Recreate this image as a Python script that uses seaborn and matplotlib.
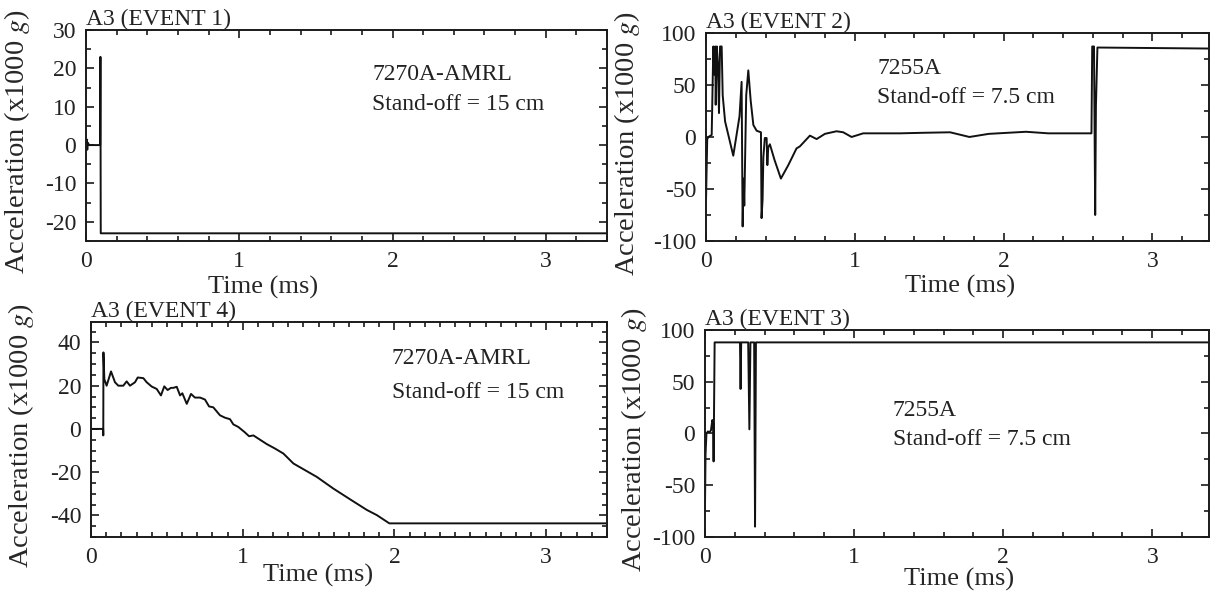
import matplotlib
matplotlib.use("Agg")
import matplotlib.pyplot as plt
import seaborn as sns
import pandas as pd
from matplotlib.ticker import MultipleLocator

# ---------------- data (time in ms, accel in 1000 g)
event1_t = [0.0, 0.004, 0.008, 0.012, 0.02, 0.092, 0.094, 0.096, 3.4]
event1_a = [0.0, 1.5, -1.2, 0.6, 0.0, 0.0, 23.0, -23.0, -23.0]

event2_t = [0.0, 0.008, 0.016, 0.038, 0.049, 0.056, 0.062, 0.065, 0.072, 0.08,
            0.087, 0.094, 0.105, 0.112, 0.128, 0.183, 0.225, 0.239, 0.246, 0.252,
            0.257, 0.27, 0.284, 0.3, 0.318, 0.34, 0.369, 0.373, 0.38, 0.385,
            0.395, 0.407, 0.412, 0.418, 0.429, 0.46, 0.503, 0.553, 0.608, 0.631,
            0.698, 0.743, 0.799, 0.877, 0.922, 0.978, 1.056, 1.302, 1.45, 1.64,
            1.77, 1.9, 2.15, 2.3, 2.59, 2.595, 2.607, 2.615, 2.62, 2.63, 3.4]
event2_a = [-60, -2, 0, 2, 87, 60, 87, 31, 87, 70,
            23, 87, 87, 40, 15, -18, 20, 53, -86, -40,
            -66, 40, 64, 35, 11.5, 6, 4.5, -78, -60, -20,
            -1, -1, -27, -10, -7, -22, -40, -27, -11, -9,
            1.3, -2, 3, 5.5, 4.5, 0, 3.5, 3.5, 4, 4.5,
            0, 3, 5, 3.5, 3.5, 87, 87, -75, 30, 86, 85]

event3_t = [0.0, 0.004, 0.01, 0.02, 0.03, 0.04, 0.05, 0.055, 0.058, 0.065,
            0.235, 0.239, 0.243, 0.29, 0.298, 0.305, 0.33, 0.336, 0.342, 3.4]
event3_a = [-75, -20, 0, 2, 1, 3, 13, 10, -27, 88,
            88, 43, 88, 88, 4, 88, 88, -90, 88, 88]

event4_t = [0.0, 0.080, 0.081, 0.082, 0.088, 0.103, 0.132, 0.158, 0.180, 0.213,
            0.235, 0.257, 0.290, 0.308, 0.345, 0.367, 0.400, 0.433, 0.461, 0.483,
            0.505, 0.527, 0.543, 0.565, 0.587, 0.602, 0.631, 0.659, 0.685, 0.719,
            0.751, 0.778, 0.806, 0.850, 0.883, 0.916, 0.938, 0.971, 1.011, 1.042,
            1.070, 1.114, 1.158, 1.213, 1.268, 1.334, 1.411, 1.488, 1.597, 1.708,
            1.818, 1.884, 1.966, 3.4]
event4_a = [0, 0, -3, 35.4, 23, 20, 26.6, 21.6, 20, 20,
            22, 20, 21.6, 23.8, 23.5, 21.6, 19.6, 18.5, 15.5, 19.7,
            18, 19, 19, 19.5, 15.5, 16.5, 11.6, 16.2, 14.5, 14.5,
            13.6, 10.4, 10, 6.3, 5.2, 4.5, 2.1, 0.9, -1.4, -3.4,
            -3, -5, -7, -9.1, -11.4, -16, -19.1, -22.2, -27.6, -32.6,
            -37.5, -39.9, -43.7, -43.7]

titles = ["A3 (EVENT 1)", "A3 (EVENT 2)", "A3 (EVENT 4)", "A3 (EVENT 3)"]
sensors = ["7270A-AMRL", "7255A", "7270A-AMRL", "7255A"]
standoffs = ["Stand-off = 15 cm", "Stand-off = 7.5 cm", "Stand-off = 15 cm", "Stand-off = 7.5 cm"]

sns.set_theme(style="ticks")
plt.rcParams.update({
    "axes.edgecolor": "#1a1a1a",
    "axes.linewidth": 1.4,
    "axes.unicode_minus": False,
    "text.color": "#222222",
    "xtick.color": "#1a1a1a",
    "ytick.color": "#1a1a1a",
    "xtick.labelcolor": "#222222",
    "ytick.labelcolor": "#222222",
    "mathtext.fontset": "stix",
})
plt.rcParams["font.family"] = ["Liberation Serif", "DejaVu Serif"]

fig = plt.figure(figsize=(12.1, 5.94), dpi=100)

# layout / styling for each panel (figure fractions, limits, tick steps)
panels = [
    dict(t=event1_t, a=event1_a, rect=[0.0711, 0.5943, 0.4306, 0.3552], xlim=(0, 3.4),
         ylim=(-25, 30), ymaj=10, ymin=5, xmin=0.2, txt=(0.549, 0.787, 0.645),
         xlab=(0.34, -0.165), ylab=-0.104),
    dict(t=event2_t, a=event2_a, rect=[0.5835, 0.5943, 0.4157, 0.3502], xlim=(0, 3.38),
         ylim=(-100, 100), ymaj=50, ymin=25, xmin=0.2, txt=(0.340, 0.827, 0.688),
         xlab=(0.505, -0.165), ylab=-0.127),
    dict(t=event4_t, a=event4_a, rect=[0.0752, 0.0960, 0.4264, 0.3620], xlim=(0, 3.4),
         ylim=(-50, 49.5), ymaj=20, ymin=5, xmin=0.1, txt=(0.583, 0.828, 0.670),
         xlab=(0.44, -0.125), ylab=-0.107),
    dict(t=event3_t, a=event3_a, rect=[0.5826, 0.0960, 0.4165, 0.3485], xlim=(0, 3.38),
         ylim=(-100, 100), ymaj=50, ymin=25, xmin=0.2, txt=(0.373, 0.613, 0.469),
         xlab=(0.505, -0.15), ylab=-0.111),
]

for p, title, sensor, standoff in zip(panels, titles, sensors, standoffs):
    ax = fig.add_axes(p["rect"])
    df = pd.DataFrame({"Time": p["t"], "Accel": p["a"]})
    sns.lineplot(data=df, x="Time", y="Accel", estimator=None, sort=False,
                 errorbar=None, color="#111111", linewidth=1.4, ax=ax)

    ax.set_xlim(*p["xlim"])
    ax.set_ylim(*p["ylim"])
    ax.xaxis.set_major_locator(MultipleLocator(1))
    ax.xaxis.set_minor_locator(MultipleLocator(p["xmin"]))
    ax.yaxis.set_major_locator(MultipleLocator(p["ymaj"]))
    ax.yaxis.set_minor_locator(MultipleLocator(p["ymin"]))
    ax.tick_params(which="both", direction="in", top=True, right=True, width=1.2)
    ax.tick_params(which="major", length=6, labelsize=17, pad=7)
    ax.tick_params(which="minor", length=3.5)

    ax.set_title(title, loc="left", fontsize=17, pad=1)
    ax.set_xlabel("Time (ms)", fontsize=19)
    ax.xaxis.set_label_coords(*p["xlab"])
    ax.set_ylabel("Acceleration (x1000 $g$)", fontsize=20.5)
    ax.yaxis.set_label_coords(p["ylab"], 0.47)

    tx, ty1, ty2 = p["txt"]
    ax.text(tx, ty1, sensor, transform=ax.transAxes, fontsize=17, va="center", ha="left")
    ax.text(tx, ty2, standoff, transform=ax.transAxes, fontsize=17, va="center", ha="left")

fig.savefig("out.png", dpi=100)
